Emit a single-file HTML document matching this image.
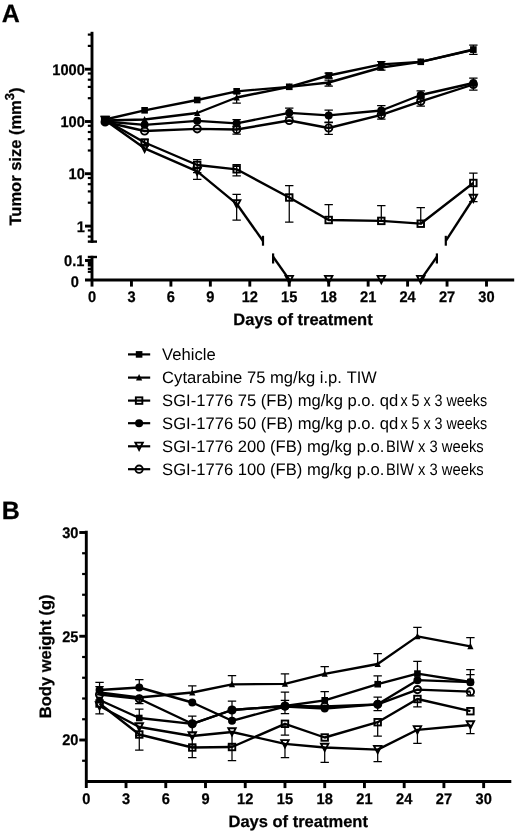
<!DOCTYPE html>
<html><head><meta charset="utf-8"><title>Figure</title>
<style>
html,body{margin:0;padding:0;background:#fff;}
body{width:520px;height:833px;overflow:hidden;font-family:"Liberation Sans",sans-serif;}
svg text{font-family:"Liberation Sans",sans-serif;}
</style></head><body>
<svg width="520" height="833" viewBox="0 0 520 833" style="display:block;will-change:transform">
<rect width="520" height="833" fill="#fff"/>
<g font-family="'Liberation Sans', sans-serif" fill="#000" text-rendering="geometricPrecision">
<text transform="translate(1.70,21.90)" font-size="25" font-weight="bold" stroke="#000" stroke-width="0.25" text-anchor="start">A</text>
<text transform="translate(1.70,518.90)" font-size="25" font-weight="bold" stroke="#000" stroke-width="0.25" text-anchor="start">B</text>
<path d="M92.0,31.8V242.8" stroke="#000" stroke-width="2.9" fill="none"/>
<path d="M92.0,255.8V286.6" stroke="#000" stroke-width="2.9" fill="none"/>
<path d="M87.8,241.6H97.0" stroke="#000" stroke-width="2.4" fill="none"/>
<path d="M87.8,257.0H97.0" stroke="#000" stroke-width="2.4" fill="none"/>
<path d="M85.0,280.0H514.2" stroke="#000" stroke-width="2.9" fill="none"/>
<path d="M85.0,69.2H92.0" stroke="#000" stroke-width="2.9" fill="none"/>
<text transform="translate(84.80,74.60) scale(0.95,1)" font-size="15.4" font-weight="bold" stroke="#000" stroke-width="0.25" text-anchor="end">1000</text>
<path d="M85.0,121.5H92.0" stroke="#000" stroke-width="2.9" fill="none"/>
<text transform="translate(84.80,126.90) scale(0.95,1)" font-size="15.4" font-weight="bold" stroke="#000" stroke-width="0.25" text-anchor="end">100</text>
<path d="M85.0,173.7H92.0" stroke="#000" stroke-width="2.9" fill="none"/>
<text transform="translate(84.80,179.10) scale(0.95,1)" font-size="15.4" font-weight="bold" stroke="#000" stroke-width="0.25" text-anchor="end">10</text>
<path d="M85.0,226.1H92.0" stroke="#000" stroke-width="2.9" fill="none"/>
<text transform="translate(84.80,231.50) scale(0.95,1)" font-size="15.4" font-weight="bold" stroke="#000" stroke-width="0.25" text-anchor="end">1</text>
<path d="M87.8,34.60H92.0" stroke="#000" stroke-width="2.2" fill="none"/>
<path d="M87.8,45.90H92.0" stroke="#000" stroke-width="2.2" fill="none"/>
<path d="M87.8,73.50H92.0" stroke="#000" stroke-width="2.2" fill="none"/>
<path d="M87.8,79.70H92.0" stroke="#000" stroke-width="2.2" fill="none"/>
<path d="M87.8,86.90H92.0" stroke="#000" stroke-width="2.2" fill="none"/>
<path d="M87.8,98.20H92.0" stroke="#000" stroke-width="2.2" fill="none"/>
<path d="M87.8,125.80H92.0" stroke="#000" stroke-width="2.2" fill="none"/>
<path d="M87.8,132.00H92.0" stroke="#000" stroke-width="2.2" fill="none"/>
<path d="M87.8,139.20H92.0" stroke="#000" stroke-width="2.2" fill="none"/>
<path d="M87.8,150.50H92.0" stroke="#000" stroke-width="2.2" fill="none"/>
<path d="M87.8,178.00H92.0" stroke="#000" stroke-width="2.2" fill="none"/>
<path d="M87.8,184.20H92.0" stroke="#000" stroke-width="2.2" fill="none"/>
<path d="M87.8,191.40H92.0" stroke="#000" stroke-width="2.2" fill="none"/>
<path d="M87.8,202.70H92.0" stroke="#000" stroke-width="2.2" fill="none"/>
<path d="M87.8,230.40H92.0" stroke="#000" stroke-width="2.2" fill="none"/>
<path d="M87.8,236.60H92.0" stroke="#000" stroke-width="2.2" fill="none"/>
<path d="M85.0,260.5H92.0" stroke="#000" stroke-width="2.9" fill="none"/>
<path d="M87.8,264.2H92.0" stroke="#000" stroke-width="4.6" fill="none"/>
<path d="M87.8,268.9H92.0" stroke="#000" stroke-width="2.2" fill="none"/>
<path d="M87.8,271.8H92.0" stroke="#000" stroke-width="2.2" fill="none"/>
<text transform="translate(84.40,265.80) scale(0.95,1)" font-size="15.4" font-weight="bold" stroke="#000" stroke-width="0.25" text-anchor="end">0.1</text>
<text transform="translate(79.00,287.00) scale(0.95,1)" font-size="15.4" font-weight="bold" stroke="#000" stroke-width="0.25" text-anchor="end">0</text>
<text transform="translate(92.00,302.20) scale(0.95,1)" font-size="15.4" font-weight="bold" stroke="#000" stroke-width="0.25" text-anchor="middle">0</text>
<path d="M131.45,280.0V286.6" stroke="#000" stroke-width="2.9" fill="none"/>
<text transform="translate(131.45,302.20) scale(0.95,1)" font-size="15.4" font-weight="bold" stroke="#000" stroke-width="0.25" text-anchor="middle">3</text>
<path d="M170.90,280.0V286.6" stroke="#000" stroke-width="2.9" fill="none"/>
<text transform="translate(170.90,302.20) scale(0.95,1)" font-size="15.4" font-weight="bold" stroke="#000" stroke-width="0.25" text-anchor="middle">6</text>
<path d="M210.35,280.0V286.6" stroke="#000" stroke-width="2.9" fill="none"/>
<text transform="translate(210.35,302.20) scale(0.95,1)" font-size="15.4" font-weight="bold" stroke="#000" stroke-width="0.25" text-anchor="middle">9</text>
<path d="M249.80,280.0V286.6" stroke="#000" stroke-width="2.9" fill="none"/>
<text transform="translate(249.80,302.20) scale(0.95,1)" font-size="15.4" font-weight="bold" stroke="#000" stroke-width="0.25" text-anchor="middle">12</text>
<path d="M289.25,280.0V286.6" stroke="#000" stroke-width="2.9" fill="none"/>
<text transform="translate(289.25,302.20) scale(0.95,1)" font-size="15.4" font-weight="bold" stroke="#000" stroke-width="0.25" text-anchor="middle">15</text>
<path d="M328.70,280.0V286.6" stroke="#000" stroke-width="2.9" fill="none"/>
<text transform="translate(328.70,302.20) scale(0.95,1)" font-size="15.4" font-weight="bold" stroke="#000" stroke-width="0.25" text-anchor="middle">18</text>
<path d="M368.15,280.0V286.6" stroke="#000" stroke-width="2.9" fill="none"/>
<text transform="translate(368.15,302.20) scale(0.95,1)" font-size="15.4" font-weight="bold" stroke="#000" stroke-width="0.25" text-anchor="middle">21</text>
<path d="M407.60,280.0V286.6" stroke="#000" stroke-width="2.9" fill="none"/>
<text transform="translate(407.60,302.20) scale(0.95,1)" font-size="15.4" font-weight="bold" stroke="#000" stroke-width="0.25" text-anchor="middle">24</text>
<path d="M447.05,280.0V286.6" stroke="#000" stroke-width="2.9" fill="none"/>
<text transform="translate(447.05,302.20) scale(0.95,1)" font-size="15.4" font-weight="bold" stroke="#000" stroke-width="0.25" text-anchor="middle">27</text>
<path d="M486.50,280.0V286.6" stroke="#000" stroke-width="2.9" fill="none"/>
<text transform="translate(486.50,302.20) scale(0.95,1)" font-size="15.4" font-weight="bold" stroke="#000" stroke-width="0.25" text-anchor="middle">30</text>
<text transform="translate(21.10,156.50) rotate(-90)" font-size="16.5" font-weight="bold" stroke="#000" stroke-width="0.25" text-anchor="middle">Tumor size (mm<tspan dy="-6.8" font-size="13">3</tspan><tspan dy="6.8">)</tspan></text>
<text transform="translate(303.00,324.80)" font-size="16.5" font-weight="bold" stroke="#000" stroke-width="0.25" text-anchor="middle">Days of treatment</text>
<polyline points="105.15,119.50 144.60,110.30 197.20,100.00 236.65,91.30 289.25,86.80 328.70,75.50 381.30,64.30 420.75,61.80 473.35,49.50" fill="none" stroke="#000" stroke-width="2.35" stroke-linejoin="round"/>
<polyline points="105.15,120.50 144.60,119.50 197.20,113.00 236.65,97.50 289.25,86.80 328.70,82.50 381.30,67.50 420.75,61.80 473.35,49.80" fill="none" stroke="#000" stroke-width="2.35" stroke-linejoin="round"/>
<polyline points="105.15,120.00 144.60,142.50 197.20,165.00 236.65,169.30 289.25,197.50 328.70,220.00 381.30,220.90 420.75,223.70 473.35,183.00" fill="none" stroke="#000" stroke-width="2.35" stroke-linejoin="round"/>
<polyline points="105.15,121.50 144.60,124.80 197.20,120.80 236.65,123.30 289.25,112.80 328.70,115.40 381.30,110.50 420.75,95.00 473.35,83.00" fill="none" stroke="#000" stroke-width="2.35" stroke-linejoin="round"/>
<polyline points="105.15,120.30 144.60,148.30 197.20,171.30 236.65,203.80" fill="none" stroke="#000" stroke-width="2.35" stroke-linejoin="round"/>
<path d="M236.65,203.80L263,241.0" stroke="#000" stroke-width="2.35" fill="none"/>
<path d="M263,235.8V245.7" stroke="#000" stroke-width="2.2" fill="none"/>
<path d="M273.1,256.7L289.25,279.60" stroke="#000" stroke-width="2.35" fill="none"/>
<path d="M273.1,253.4V263.5" stroke="#000" stroke-width="2.2" fill="none"/>
<path d="M420.75,279.60L436.9,256.7" stroke="#000" stroke-width="2.35" fill="none"/>
<path d="M436.9,253.4V263.5" stroke="#000" stroke-width="2.2" fill="none"/>
<path d="M445.8,240.9L473.35,198.50" stroke="#000" stroke-width="2.35" fill="none"/>
<path d="M445.8,235.8V245.7" stroke="#000" stroke-width="2.2" fill="none"/>
<polyline points="105.15,122.00 144.60,131.00 197.20,128.80 236.65,129.50 289.25,120.50 328.70,128.00 381.30,114.80 420.75,101.30 473.35,84.50" fill="none" stroke="#000" stroke-width="2.35" stroke-linejoin="round"/>
<path d="M473.35,49.50V45.00M469.15,45.00H477.55" stroke="#000" stroke-width="1.25" fill="none"/><path d="M473.35,49.50V54.30M469.15,54.30H477.55" stroke="#000" stroke-width="1.25" fill="none"/>
<path d="M381.30,64.30V61.50M377.10,61.50H385.50" stroke="#000" stroke-width="1.25" fill="none"/><path d="M381.30,64.30V67.00M377.10,67.00H385.50" stroke="#000" stroke-width="1.25" fill="none"/>
<path d="M328.70,75.50V73.00M324.50,73.00H332.90" stroke="#000" stroke-width="1.25" fill="none"/><path d="M328.70,75.50V78.00M324.50,78.00H332.90" stroke="#000" stroke-width="1.25" fill="none"/>
<path d="M236.65,97.50V93.00M232.45,93.00H240.85" stroke="#000" stroke-width="1.25" fill="none"/><path d="M236.65,97.50V103.10M232.45,103.10H240.85" stroke="#000" stroke-width="1.25" fill="none"/>
<path d="M328.70,82.50V80.00M324.50,80.00H332.90" stroke="#000" stroke-width="1.25" fill="none"/><path d="M328.70,82.50V86.00M324.50,86.00H332.90" stroke="#000" stroke-width="1.25" fill="none"/>
<path d="M381.30,67.50V65.00M377.10,65.00H385.50" stroke="#000" stroke-width="1.25" fill="none"/><path d="M381.30,67.50V70.00M377.10,70.00H385.50" stroke="#000" stroke-width="1.25" fill="none"/>
<path d="M236.65,123.30V119.60M232.45,119.60H240.85" stroke="#000" stroke-width="1.25" fill="none"/><path d="M236.65,123.30V126.60M232.45,126.60H240.85" stroke="#000" stroke-width="1.25" fill="none"/>
<path d="M289.25,112.80V108.00M285.05,108.00H293.45" stroke="#000" stroke-width="1.25" fill="none"/><path d="M289.25,112.80V117.00M285.05,117.00H293.45" stroke="#000" stroke-width="1.25" fill="none"/>
<path d="M328.70,115.40V110.20M324.50,110.20H332.90" stroke="#000" stroke-width="1.25" fill="none"/><path d="M328.70,115.40V122.00M324.50,122.00H332.90" stroke="#000" stroke-width="1.25" fill="none"/>
<path d="M381.30,110.50V105.50M377.10,105.50H385.50" stroke="#000" stroke-width="1.25" fill="none"/><path d="M381.30,110.50V115.00M377.10,115.00H385.50" stroke="#000" stroke-width="1.25" fill="none"/>
<path d="M420.75,95.00V90.80M416.55,90.80H424.95" stroke="#000" stroke-width="1.25" fill="none"/><path d="M420.75,95.00V99.00M416.55,99.00H424.95" stroke="#000" stroke-width="1.25" fill="none"/>
<path d="M473.35,83.00V78.00M469.15,78.00H477.55" stroke="#000" stroke-width="1.25" fill="none"/><path d="M473.35,83.00V90.00M469.15,90.00H477.55" stroke="#000" stroke-width="1.25" fill="none"/>
<path d="M236.65,129.50V126.00M232.45,126.00H240.85" stroke="#000" stroke-width="1.25" fill="none"/><path d="M236.65,129.50V134.00M232.45,134.00H240.85" stroke="#000" stroke-width="1.25" fill="none"/>
<path d="M328.70,128.00V122.60M324.50,122.60H332.90" stroke="#000" stroke-width="1.25" fill="none"/><path d="M328.70,128.00V134.40M324.50,134.40H332.90" stroke="#000" stroke-width="1.25" fill="none"/>
<path d="M381.30,114.80V111.00M377.10,111.00H385.50" stroke="#000" stroke-width="1.25" fill="none"/><path d="M381.30,114.80V119.00M377.10,119.00H385.50" stroke="#000" stroke-width="1.25" fill="none"/>
<path d="M420.75,101.30V97.00M416.55,97.00H424.95" stroke="#000" stroke-width="1.25" fill="none"/><path d="M420.75,101.30V106.00M416.55,106.00H424.95" stroke="#000" stroke-width="1.25" fill="none"/>
<path d="M197.20,165.00V159.50M193.00,159.50H201.40" stroke="#000" stroke-width="1.25" fill="none"/><path d="M197.20,165.00V172.50M193.00,172.50H201.40" stroke="#000" stroke-width="1.25" fill="none"/>
<path d="M236.65,169.30V164.50M232.45,164.50H240.85" stroke="#000" stroke-width="1.25" fill="none"/><path d="M236.65,169.30V175.80M232.45,175.80H240.85" stroke="#000" stroke-width="1.25" fill="none"/>
<path d="M289.25,197.50V185.50M285.05,185.50H293.45" stroke="#000" stroke-width="1.25" fill="none"/><path d="M289.25,197.50V222.00M285.05,222.00H293.45" stroke="#000" stroke-width="1.25" fill="none"/>
<path d="M328.70,220.00V204.50M324.50,204.50H332.90" stroke="#000" stroke-width="1.25" fill="none"/>
<path d="M381.30,220.90V205.50M377.10,205.50H385.50" stroke="#000" stroke-width="1.25" fill="none"/>
<path d="M420.75,223.70V207.70M416.55,207.70H424.95" stroke="#000" stroke-width="1.25" fill="none"/>
<path d="M473.35,183.00V173.00M469.15,173.00H477.55" stroke="#000" stroke-width="1.25" fill="none"/><path d="M473.35,183.00V201.60M469.15,201.60H477.55" stroke="#000" stroke-width="1.25" fill="none"/>
<path d="M197.20,171.30V179.30M193.00,179.30H201.40" stroke="#000" stroke-width="1.25" fill="none"/>
<path d="M236.65,203.80V194.30M232.45,194.30H240.85" stroke="#000" stroke-width="1.25" fill="none"/><path d="M236.65,203.80V220.00M232.45,220.00H240.85" stroke="#000" stroke-width="1.25" fill="none"/>
<path d="M144.60,142.50V139.50M140.40,139.50H148.80" stroke="#000" stroke-width="1.25" fill="none"/><path d="M144.60,142.50V145.50M140.40,145.50H148.80" stroke="#000" stroke-width="1.25" fill="none"/>
<rect x="101.85" y="116.20" width="6.6" height="6.6" fill="#000"/>
<rect x="141.30" y="107.00" width="6.6" height="6.6" fill="#000"/>
<rect x="193.90" y="96.70" width="6.6" height="6.6" fill="#000"/>
<rect x="233.35" y="88.00" width="6.6" height="6.6" fill="#000"/>
<rect x="285.95" y="83.50" width="6.6" height="6.6" fill="#000"/>
<rect x="325.40" y="72.20" width="6.6" height="6.6" fill="#000"/>
<rect x="378.00" y="61.00" width="6.6" height="6.6" fill="#000"/>
<rect x="417.45" y="58.50" width="6.6" height="6.6" fill="#000"/>
<rect x="470.05" y="46.20" width="6.6" height="6.6" fill="#000"/>
<path d="M105.15,116.90 L108.25,123.40 L102.05,123.40Z" fill="#000"/>
<path d="M144.60,115.90 L147.70,122.40 L141.50,122.40Z" fill="#000"/>
<path d="M197.20,109.40 L200.30,115.90 L194.10,115.90Z" fill="#000"/>
<path d="M236.65,93.90 L239.75,100.40 L233.55,100.40Z" fill="#000"/>
<path d="M289.25,83.20 L292.35,89.70 L286.15,89.70Z" fill="#000"/>
<path d="M328.70,78.90 L331.80,85.40 L325.60,85.40Z" fill="#000"/>
<path d="M381.30,63.90 L384.40,70.40 L378.20,70.40Z" fill="#000"/>
<path d="M420.75,58.20 L423.85,64.70 L417.65,64.70Z" fill="#000"/>
<path d="M473.35,46.20 L476.45,52.70 L470.25,52.70Z" fill="#000"/>
<rect x="101.90" y="116.75" width="6.5" height="6.5" fill="none" stroke="#000" stroke-width="1.9"/>
<rect x="141.35" y="139.25" width="6.5" height="6.5" fill="none" stroke="#000" stroke-width="1.9"/>
<rect x="193.95" y="161.75" width="6.5" height="6.5" fill="none" stroke="#000" stroke-width="1.9"/>
<rect x="233.40" y="166.05" width="6.5" height="6.5" fill="none" stroke="#000" stroke-width="1.9"/>
<rect x="286.00" y="194.25" width="6.5" height="6.5" fill="none" stroke="#000" stroke-width="1.9"/>
<rect x="325.45" y="216.75" width="6.5" height="6.5" fill="none" stroke="#000" stroke-width="1.9"/>
<rect x="378.05" y="217.65" width="6.5" height="6.5" fill="none" stroke="#000" stroke-width="1.9"/>
<rect x="417.50" y="220.45" width="6.5" height="6.5" fill="none" stroke="#000" stroke-width="1.9"/>
<rect x="470.10" y="179.75" width="6.5" height="6.5" fill="none" stroke="#000" stroke-width="1.9"/>
<circle cx="105.15" cy="121.50" r="4.0" fill="#000"/>
<circle cx="144.60" cy="124.80" r="4.0" fill="#000"/>
<circle cx="197.20" cy="120.80" r="4.0" fill="#000"/>
<circle cx="236.65" cy="123.30" r="4.0" fill="#000"/>
<circle cx="289.25" cy="112.80" r="4.0" fill="#000"/>
<circle cx="328.70" cy="115.40" r="4.0" fill="#000"/>
<circle cx="381.30" cy="110.50" r="4.0" fill="#000"/>
<circle cx="420.75" cy="95.00" r="4.0" fill="#000"/>
<circle cx="473.35" cy="83.00" r="4.0" fill="#000"/>
<path d="M101.45,116.60 L108.85,116.60 L105.15,123.80Z" fill="none" stroke="#000" stroke-width="1.9" stroke-linejoin="miter"/>
<path d="M140.90,144.60 L148.30,144.60 L144.60,151.80Z" fill="none" stroke="#000" stroke-width="1.9" stroke-linejoin="miter"/>
<path d="M193.50,167.60 L200.90,167.60 L197.20,174.80Z" fill="none" stroke="#000" stroke-width="1.9" stroke-linejoin="miter"/>
<path d="M232.95,200.10 L240.35,200.10 L236.65,207.30Z" fill="none" stroke="#000" stroke-width="1.9" stroke-linejoin="miter"/>
<path d="M285.55,275.90 L292.95,275.90 L289.25,283.10Z" fill="none" stroke="#000" stroke-width="1.9" stroke-linejoin="miter"/>
<path d="M325.00,275.90 L332.40,275.90 L328.70,283.10Z" fill="none" stroke="#000" stroke-width="1.9" stroke-linejoin="miter"/>
<path d="M377.60,275.90 L385.00,275.90 L381.30,283.10Z" fill="none" stroke="#000" stroke-width="1.9" stroke-linejoin="miter"/>
<path d="M417.05,275.90 L424.45,275.90 L420.75,283.10Z" fill="none" stroke="#000" stroke-width="1.9" stroke-linejoin="miter"/>
<path d="M469.65,194.80 L477.05,194.80 L473.35,202.00Z" fill="none" stroke="#000" stroke-width="1.9" stroke-linejoin="miter"/>
<circle cx="105.15" cy="122.00" r="3.65" fill="none" stroke="#000" stroke-width="1.9"/>
<circle cx="144.60" cy="131.00" r="3.65" fill="none" stroke="#000" stroke-width="1.9"/>
<circle cx="197.20" cy="128.80" r="3.65" fill="none" stroke="#000" stroke-width="1.9"/>
<circle cx="236.65" cy="129.50" r="3.65" fill="none" stroke="#000" stroke-width="1.9"/>
<circle cx="289.25" cy="120.50" r="3.65" fill="none" stroke="#000" stroke-width="1.9"/>
<circle cx="328.70" cy="128.00" r="3.65" fill="none" stroke="#000" stroke-width="1.9"/>
<circle cx="381.30" cy="114.80" r="3.65" fill="none" stroke="#000" stroke-width="1.9"/>
<circle cx="420.75" cy="101.30" r="3.65" fill="none" stroke="#000" stroke-width="1.9"/>
<circle cx="473.35" cy="84.50" r="3.65" fill="none" stroke="#000" stroke-width="1.9"/>
<path d="M128,354.4H150.2" stroke="#000" stroke-width="2.2" fill="none"/>
<rect x="135.80" y="351.10" width="6.6" height="6.6" fill="#000"/>
<text transform="translate(162.10,360.00)" font-size="16.6" text-anchor="start" xml:space="preserve">Vehicle</text>
<path d="M128,377.6H150.2" stroke="#000" stroke-width="2.2" fill="none"/>
<path d="M139.10,374.00 L142.20,380.50 L136.00,380.50Z" fill="#000"/>
<text transform="translate(162.10,383.20)" font-size="16.6" text-anchor="start" xml:space="preserve">Cytarabine 75 mg/kg i.p.</text>
<text transform="translate(346.80,383.20) scale(0.985,1)" font-size="16.6" text-anchor="start" xml:space="preserve">TIW</text>
<path d="M128,400.6H150.2" stroke="#000" stroke-width="2.2" fill="none"/>
<rect x="135.85" y="397.35" width="6.5" height="6.5" fill="none" stroke="#000" stroke-width="1.9"/>
<text transform="translate(162.10,406.20)" font-size="16.6" text-anchor="start" xml:space="preserve">SGI-1776 75 (FB) mg/kg p.o. qd</text>
<text transform="translate(400.40,406.20) scale(0.862,1)" font-size="16.6" text-anchor="start" xml:space="preserve">x 5 x 3 weeks</text>
<path d="M128,423.2H150.2" stroke="#000" stroke-width="2.2" fill="none"/>
<circle cx="139.10" cy="423.20" r="4.0" fill="#000"/>
<text transform="translate(162.10,428.80)" font-size="16.6" text-anchor="start" xml:space="preserve">SGI-1776 50 (FB) mg/kg p.o. qd</text>
<text transform="translate(400.40,428.80) scale(0.862,1)" font-size="16.6" text-anchor="start" xml:space="preserve">x 5 x 3 weeks</text>
<path d="M128,446.3H150.2" stroke="#000" stroke-width="2.2" fill="none"/>
<path d="M135.40,442.60 L142.80,442.60 L139.10,449.80Z" fill="none" stroke="#000" stroke-width="1.9" stroke-linejoin="miter"/>
<text transform="translate(162.10,451.90)" font-size="16.6" text-anchor="start" xml:space="preserve">SGI-1776 200 (FB) mg/kg p.o.</text>
<text transform="translate(386.00,451.90) scale(0.89,1)" font-size="16.6" text-anchor="start" xml:space="preserve">BIW x 3 weeks</text>
<path d="M128,469.2H150.2" stroke="#000" stroke-width="2.2" fill="none"/>
<circle cx="139.10" cy="469.20" r="3.65" fill="none" stroke="#000" stroke-width="1.9"/>
<text transform="translate(162.10,474.80)" font-size="16.6" text-anchor="start" xml:space="preserve">SGI-1776 100 (FB) mg/kg p.o.</text>
<text transform="translate(386.00,474.80) scale(0.89,1)" font-size="16.6" text-anchor="start" xml:space="preserve">BIW x 3 weeks</text>
<path d="M86.3,530.8V788.1" stroke="#000" stroke-width="2.9" fill="none"/>
<path d="M85.0,781.5H511.3" stroke="#000" stroke-width="2.9" fill="none"/>
<path d="M82.1,760.75H86.3" stroke="#000" stroke-width="2.2" fill="none"/>
<path d="M79.3,740.00H86.3" stroke="#000" stroke-width="2.9" fill="none"/>
<text transform="translate(78.50,745.40) scale(0.95,1)" font-size="15.4" font-weight="bold" stroke="#000" stroke-width="0.25" text-anchor="end">20</text>
<path d="M82.1,719.25H86.3" stroke="#000" stroke-width="2.2" fill="none"/>
<path d="M82.1,698.50H86.3" stroke="#000" stroke-width="2.2" fill="none"/>
<path d="M82.1,677.75H86.3" stroke="#000" stroke-width="2.2" fill="none"/>
<path d="M82.1,657.00H86.3" stroke="#000" stroke-width="2.2" fill="none"/>
<path d="M79.3,636.25H86.3" stroke="#000" stroke-width="2.9" fill="none"/>
<text transform="translate(78.50,641.65) scale(0.95,1)" font-size="15.4" font-weight="bold" stroke="#000" stroke-width="0.25" text-anchor="end">25</text>
<path d="M82.1,615.50H86.3" stroke="#000" stroke-width="2.2" fill="none"/>
<path d="M82.1,594.75H86.3" stroke="#000" stroke-width="2.2" fill="none"/>
<path d="M82.1,574.00H86.3" stroke="#000" stroke-width="2.2" fill="none"/>
<path d="M82.1,553.25H86.3" stroke="#000" stroke-width="2.2" fill="none"/>
<path d="M79.3,532.50H86.3" stroke="#000" stroke-width="2.9" fill="none"/>
<text transform="translate(78.50,537.90) scale(0.95,1)" font-size="15.4" font-weight="bold" stroke="#000" stroke-width="0.25" text-anchor="end">30</text>
<text transform="translate(86.30,803.50) scale(0.95,1)" font-size="15.4" font-weight="bold" stroke="#000" stroke-width="0.25" text-anchor="middle">0</text>
<path d="M126.03,781.5V788.1" stroke="#000" stroke-width="2.9" fill="none"/>
<text transform="translate(126.03,803.50) scale(0.95,1)" font-size="15.4" font-weight="bold" stroke="#000" stroke-width="0.25" text-anchor="middle">3</text>
<path d="M165.77,781.5V788.1" stroke="#000" stroke-width="2.9" fill="none"/>
<text transform="translate(165.77,803.50) scale(0.95,1)" font-size="15.4" font-weight="bold" stroke="#000" stroke-width="0.25" text-anchor="middle">6</text>
<path d="M205.50,781.5V788.1" stroke="#000" stroke-width="2.9" fill="none"/>
<text transform="translate(205.50,803.50) scale(0.95,1)" font-size="15.4" font-weight="bold" stroke="#000" stroke-width="0.25" text-anchor="middle">9</text>
<path d="M245.24,781.5V788.1" stroke="#000" stroke-width="2.9" fill="none"/>
<text transform="translate(245.24,803.50) scale(0.95,1)" font-size="15.4" font-weight="bold" stroke="#000" stroke-width="0.25" text-anchor="middle">12</text>
<path d="M284.97,781.5V788.1" stroke="#000" stroke-width="2.9" fill="none"/>
<text transform="translate(284.97,803.50) scale(0.95,1)" font-size="15.4" font-weight="bold" stroke="#000" stroke-width="0.25" text-anchor="middle">15</text>
<path d="M324.71,781.5V788.1" stroke="#000" stroke-width="2.9" fill="none"/>
<text transform="translate(324.71,803.50) scale(0.95,1)" font-size="15.4" font-weight="bold" stroke="#000" stroke-width="0.25" text-anchor="middle">18</text>
<path d="M364.44,781.5V788.1" stroke="#000" stroke-width="2.9" fill="none"/>
<text transform="translate(364.44,803.50) scale(0.95,1)" font-size="15.4" font-weight="bold" stroke="#000" stroke-width="0.25" text-anchor="middle">21</text>
<path d="M404.18,781.5V788.1" stroke="#000" stroke-width="2.9" fill="none"/>
<text transform="translate(404.18,803.50) scale(0.95,1)" font-size="15.4" font-weight="bold" stroke="#000" stroke-width="0.25" text-anchor="middle">24</text>
<path d="M443.91,781.5V788.1" stroke="#000" stroke-width="2.9" fill="none"/>
<text transform="translate(443.91,803.50) scale(0.95,1)" font-size="15.4" font-weight="bold" stroke="#000" stroke-width="0.25" text-anchor="middle">27</text>
<path d="M483.65,781.5V788.1" stroke="#000" stroke-width="2.9" fill="none"/>
<text transform="translate(483.65,803.50) scale(0.95,1)" font-size="15.4" font-weight="bold" stroke="#000" stroke-width="0.25" text-anchor="middle">30</text>
<text transform="translate(51.40,656.30) rotate(-90)" font-size="16.5" font-weight="bold" stroke="#000" stroke-width="0.25" text-anchor="middle">Body weight (g)</text>
<text transform="translate(298.20,826.90)" font-size="16.5" font-weight="bold" stroke="#000" stroke-width="0.25" text-anchor="middle">Days of treatment</text>
<polyline points="99.55,700.00 139.28,718.00 192.26,723.80 232.00,710.00 284.97,706.00 324.71,700.30 377.69,684.20 417.43,673.60 470.40,682.00" fill="none" stroke="#000" stroke-width="2.35" stroke-linejoin="round"/>
<polyline points="99.55,692.50 139.28,697.50 192.26,692.50 232.00,684.30 284.97,683.80 324.71,673.80 377.69,664.00 417.43,636.40 470.40,646.30" fill="none" stroke="#000" stroke-width="2.35" stroke-linejoin="round"/>
<polyline points="99.55,703.50 139.28,734.50 192.26,747.50 232.00,747.00 284.97,723.80 324.71,737.50 377.69,722.20 417.43,699.00 470.40,711.20" fill="none" stroke="#000" stroke-width="2.35" stroke-linejoin="round"/>
<polyline points="99.55,690.00 139.28,687.50 192.26,702.50 232.00,720.80 284.97,706.50 324.71,708.50 377.69,704.30 417.43,680.20 470.40,682.20" fill="none" stroke="#000" stroke-width="2.35" stroke-linejoin="round"/>
<polyline points="99.55,706.00 139.28,727.00 192.26,736.00 232.00,732.00 284.97,743.80 324.71,747.50 377.69,749.60 417.43,729.80 470.40,725.00" fill="none" stroke="#000" stroke-width="2.35" stroke-linejoin="round"/>
<polyline points="99.55,694.50 139.28,698.80 192.26,723.80 232.00,710.00 284.97,706.00 324.71,706.50 377.69,704.30 417.43,689.60 470.40,691.70" fill="none" stroke="#000" stroke-width="2.35" stroke-linejoin="round"/>
<path d="M139.28,727.00V735.50M135.08,735.50H143.48" stroke="#000" stroke-width="1.25" fill="none"/>
<path d="M192.26,736.00V746.00M188.06,746.00H196.46" stroke="#000" stroke-width="1.25" fill="none"/>
<path d="M232.00,732.00V745.00M227.80,745.00H236.19" stroke="#000" stroke-width="1.25" fill="none"/>
<path d="M192.26,723.80V732.50M188.06,732.50H196.46" stroke="#000" stroke-width="1.25" fill="none"/>
<path d="M232.00,710.00V719.00M227.80,719.00H236.19" stroke="#000" stroke-width="1.25" fill="none"/>
<path d="M99.55,692.50V682.30M95.34,682.30H103.75" stroke="#000" stroke-width="1.25" fill="none"/>
<path d="M99.55,690.00V686.50M95.34,686.50H103.75" stroke="#000" stroke-width="1.25" fill="none"/>
<path d="M99.55,706.00V713.80M95.34,713.80H103.75" stroke="#000" stroke-width="1.25" fill="none"/>
<path d="M139.28,687.50V679.50M135.08,679.50H143.48" stroke="#000" stroke-width="1.25" fill="none"/>
<path d="M139.28,718.00V709.00M135.08,709.00H143.48" stroke="#000" stroke-width="1.25" fill="none"/>
<path d="M139.28,734.50V750.00M135.08,750.00H143.48" stroke="#000" stroke-width="1.25" fill="none"/>
<path d="M139.28,698.80V703.50M135.08,703.50H143.48" stroke="#000" stroke-width="1.25" fill="none"/>
<path d="M192.26,692.50V685.80M188.06,685.80H196.46" stroke="#000" stroke-width="1.25" fill="none"/>
<path d="M192.26,723.80V716.00M188.06,716.00H196.46" stroke="#000" stroke-width="1.25" fill="none"/>
<path d="M192.26,747.50V757.50M188.06,757.50H196.46" stroke="#000" stroke-width="1.25" fill="none"/>
<path d="M232.00,684.30V675.50M227.80,675.50H236.19" stroke="#000" stroke-width="1.25" fill="none"/>
<path d="M232.00,710.00V701.00M227.80,701.00H236.19" stroke="#000" stroke-width="1.25" fill="none"/>
<path d="M232.00,747.00V760.50M227.80,760.50H236.19" stroke="#000" stroke-width="1.25" fill="none"/>
<path d="M284.97,683.80V673.80M280.77,673.80H289.17" stroke="#000" stroke-width="1.25" fill="none"/>
<path d="M284.97,706.00V692.10M280.77,692.10H289.17" stroke="#000" stroke-width="1.25" fill="none"/>
<path d="M284.97,706.50V700.40M280.77,700.40H289.17" stroke="#000" stroke-width="1.25" fill="none"/>
<path d="M284.97,706.00V713.50M280.77,713.50H289.17" stroke="#000" stroke-width="1.25" fill="none"/>
<path d="M284.97,723.80V735.00M280.77,735.00H289.17" stroke="#000" stroke-width="1.25" fill="none"/>
<path d="M284.97,743.80V757.50M280.77,757.50H289.17" stroke="#000" stroke-width="1.25" fill="none"/>
<path d="M324.71,673.80V666.70M320.51,666.70H328.91" stroke="#000" stroke-width="1.25" fill="none"/>
<path d="M324.71,700.30V691.50M320.51,691.50H328.91" stroke="#000" stroke-width="1.25" fill="none"/>
<path d="M324.71,747.50V762.30M320.51,762.30H328.91" stroke="#000" stroke-width="1.25" fill="none"/>
<path d="M377.69,664.00V653.70M373.49,653.70H381.89" stroke="#000" stroke-width="1.25" fill="none"/>
<path d="M377.69,684.20V675.80M373.49,675.80H381.89" stroke="#000" stroke-width="1.25" fill="none"/>
<path d="M377.69,704.30V697.00M373.49,697.00H381.89" stroke="#000" stroke-width="1.25" fill="none"/><path d="M377.69,704.30V710.50M373.49,710.50H381.89" stroke="#000" stroke-width="1.25" fill="none"/>
<path d="M377.69,722.20V736.00M373.49,736.00H381.89" stroke="#000" stroke-width="1.25" fill="none"/>
<path d="M377.69,749.60V761.70M373.49,761.70H381.89" stroke="#000" stroke-width="1.25" fill="none"/>
<path d="M417.43,636.40V627.40M413.23,627.40H421.62" stroke="#000" stroke-width="1.25" fill="none"/>
<path d="M417.43,673.60V661.40M413.23,661.40H421.62" stroke="#000" stroke-width="1.25" fill="none"/>
<path d="M417.43,699.00V706.80M413.23,706.80H421.62" stroke="#000" stroke-width="1.25" fill="none"/>
<path d="M417.43,729.80V743.40M413.23,743.40H421.62" stroke="#000" stroke-width="1.25" fill="none"/>
<path d="M470.40,646.30V637.50M466.20,637.50H474.60" stroke="#000" stroke-width="1.25" fill="none"/>
<path d="M470.40,691.70V695.80M466.20,695.80H474.60" stroke="#000" stroke-width="1.25" fill="none"/>
<path d="M470.40,682.00V669.50M466.20,669.50H474.60" stroke="#000" stroke-width="1.25" fill="none"/>
<path d="M470.40,682.20V674.70M466.20,674.70H474.60" stroke="#000" stroke-width="1.25" fill="none"/>
<path d="M470.40,725.00V733.50M466.20,733.50H474.60" stroke="#000" stroke-width="1.25" fill="none"/>
<rect x="96.25" y="696.70" width="6.6" height="6.6" fill="#000"/>
<rect x="135.98" y="714.70" width="6.6" height="6.6" fill="#000"/>
<rect x="188.96" y="720.50" width="6.6" height="6.6" fill="#000"/>
<rect x="228.69" y="706.70" width="6.6" height="6.6" fill="#000"/>
<rect x="281.67" y="702.70" width="6.6" height="6.6" fill="#000"/>
<rect x="321.41" y="697.00" width="6.6" height="6.6" fill="#000"/>
<rect x="374.39" y="680.90" width="6.6" height="6.6" fill="#000"/>
<rect x="414.12" y="670.30" width="6.6" height="6.6" fill="#000"/>
<rect x="467.10" y="678.70" width="6.6" height="6.6" fill="#000"/>
<path d="M99.55,688.90 L102.64,695.40 L96.45,695.40Z" fill="#000"/>
<path d="M139.28,693.90 L142.38,700.40 L136.18,700.40Z" fill="#000"/>
<path d="M192.26,688.90 L195.36,695.40 L189.16,695.40Z" fill="#000"/>
<path d="M232.00,680.70 L235.09,687.20 L228.90,687.20Z" fill="#000"/>
<path d="M284.97,680.20 L288.07,686.70 L281.87,686.70Z" fill="#000"/>
<path d="M324.71,670.20 L327.81,676.70 L321.61,676.70Z" fill="#000"/>
<path d="M377.69,660.40 L380.79,666.90 L374.59,666.90Z" fill="#000"/>
<path d="M417.43,632.80 L420.53,639.30 L414.32,639.30Z" fill="#000"/>
<path d="M470.40,642.70 L473.50,649.20 L467.30,649.20Z" fill="#000"/>
<rect x="96.30" y="700.25" width="6.5" height="6.5" fill="none" stroke="#000" stroke-width="1.9"/>
<rect x="136.03" y="731.25" width="6.5" height="6.5" fill="none" stroke="#000" stroke-width="1.9"/>
<rect x="189.01" y="744.25" width="6.5" height="6.5" fill="none" stroke="#000" stroke-width="1.9"/>
<rect x="228.75" y="743.75" width="6.5" height="6.5" fill="none" stroke="#000" stroke-width="1.9"/>
<rect x="281.72" y="720.55" width="6.5" height="6.5" fill="none" stroke="#000" stroke-width="1.9"/>
<rect x="321.46" y="734.25" width="6.5" height="6.5" fill="none" stroke="#000" stroke-width="1.9"/>
<rect x="374.44" y="718.95" width="6.5" height="6.5" fill="none" stroke="#000" stroke-width="1.9"/>
<rect x="414.18" y="695.75" width="6.5" height="6.5" fill="none" stroke="#000" stroke-width="1.9"/>
<rect x="467.15" y="707.95" width="6.5" height="6.5" fill="none" stroke="#000" stroke-width="1.9"/>
<circle cx="99.55" cy="690.00" r="4.0" fill="#000"/>
<circle cx="139.28" cy="687.50" r="4.0" fill="#000"/>
<circle cx="192.26" cy="702.50" r="4.0" fill="#000"/>
<circle cx="232.00" cy="720.80" r="4.0" fill="#000"/>
<circle cx="284.97" cy="706.50" r="4.0" fill="#000"/>
<circle cx="324.71" cy="708.50" r="4.0" fill="#000"/>
<circle cx="377.69" cy="704.30" r="4.0" fill="#000"/>
<circle cx="417.43" cy="680.20" r="4.0" fill="#000"/>
<circle cx="470.40" cy="682.20" r="4.0" fill="#000"/>
<path d="M95.84,702.30 L103.25,702.30 L99.55,709.50Z" fill="none" stroke="#000" stroke-width="1.9" stroke-linejoin="miter"/>
<path d="M135.58,723.30 L142.98,723.30 L139.28,730.50Z" fill="none" stroke="#000" stroke-width="1.9" stroke-linejoin="miter"/>
<path d="M188.56,732.30 L195.96,732.30 L192.26,739.50Z" fill="none" stroke="#000" stroke-width="1.9" stroke-linejoin="miter"/>
<path d="M228.30,728.30 L235.69,728.30 L232.00,735.50Z" fill="none" stroke="#000" stroke-width="1.9" stroke-linejoin="miter"/>
<path d="M281.27,740.10 L288.67,740.10 L284.97,747.30Z" fill="none" stroke="#000" stroke-width="1.9" stroke-linejoin="miter"/>
<path d="M321.01,743.80 L328.41,743.80 L324.71,751.00Z" fill="none" stroke="#000" stroke-width="1.9" stroke-linejoin="miter"/>
<path d="M373.99,745.90 L381.39,745.90 L377.69,753.10Z" fill="none" stroke="#000" stroke-width="1.9" stroke-linejoin="miter"/>
<path d="M413.73,726.10 L421.12,726.10 L417.43,733.30Z" fill="none" stroke="#000" stroke-width="1.9" stroke-linejoin="miter"/>
<path d="M466.70,721.30 L474.10,721.30 L470.40,728.50Z" fill="none" stroke="#000" stroke-width="1.9" stroke-linejoin="miter"/>
<circle cx="99.55" cy="694.50" r="3.65" fill="none" stroke="#000" stroke-width="1.9"/>
<circle cx="139.28" cy="698.80" r="3.65" fill="none" stroke="#000" stroke-width="1.9"/>
<circle cx="192.26" cy="723.80" r="3.65" fill="none" stroke="#000" stroke-width="1.9"/>
<circle cx="232.00" cy="710.00" r="3.65" fill="none" stroke="#000" stroke-width="1.9"/>
<circle cx="284.97" cy="706.00" r="3.65" fill="none" stroke="#000" stroke-width="1.9"/>
<circle cx="324.71" cy="706.50" r="3.65" fill="none" stroke="#000" stroke-width="1.9"/>
<circle cx="377.69" cy="704.30" r="3.65" fill="none" stroke="#000" stroke-width="1.9"/>
<circle cx="417.43" cy="689.60" r="3.65" fill="none" stroke="#000" stroke-width="1.9"/>
<circle cx="470.40" cy="691.70" r="3.65" fill="none" stroke="#000" stroke-width="1.9"/>
</g></svg>
</body></html>
